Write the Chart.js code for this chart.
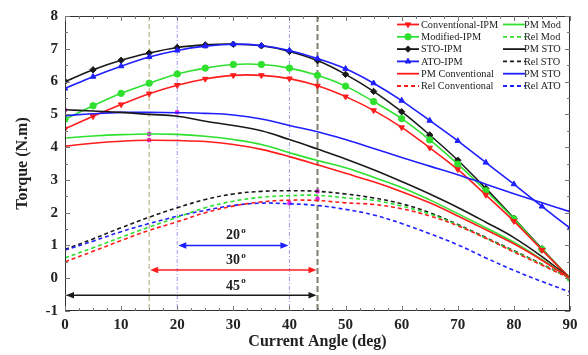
<!DOCTYPE html>
<html>
<head>
<meta charset="utf-8">
<script src="https://cdn.jsdelivr.net/npm/chart.js@4.4.1/dist/chart.umd.min.js"></script>
<style>
  html, body { margin: 0; padding: 0; background: #fff; }
  #wrap { width: 588px; height: 355px; }
</style>
</head>
<body>
<div id="wrap"><canvas id="torque-chart" width="588" height="355"></canvas></div>
<script>
// current angle (deg)
const angles = [0, 5, 10, 15, 20, 25, 30, 35, 40, 45, 50, 55, 60, 65, 70, 75, 80, 85, 90];

// total torque, IPM designs
const conventionalIpm = [4.56, 4.94, 5.3, 5.63, 5.89, 6.08, 6.19, 6.19, 6.09, 5.87, 5.54, 5.12, 4.6, 3.98, 3.32, 2.54, 1.74, 0.86, 0];
const modifiedIpm     = [4.85, 5.26, 5.64, 5.95, 6.23, 6.41, 6.52, 6.52, 6.41, 6.19, 5.86, 5.39, 4.87, 4.22, 3.48, 2.67, 1.81, 0.88, 0];
const stoIpm          = [6.0, 6.36, 6.65, 6.87, 7.04, 7.12, 7.14, 7.09, 6.92, 6.64, 6.22, 5.7, 5.08, 4.37, 3.6, 2.74, 1.83, 0.9, 0];
const atoIpm          = [5.79, 6.15, 6.47, 6.75, 6.95, 7.08, 7.14, 7.1, 6.95, 6.7, 6.39, 5.95, 5.42, 4.81, 4.19, 3.53, 2.87, 2.19, 1.53];

// PM torque components
const pmConventional = [4.03, 4.12, 4.18, 4.21, 4.2, 4.17, 4.08, 3.93, 3.71, 3.46, 3.2, 2.94, 2.64, 2.3, 1.9, 1.48, 1.05, 0.55, 0];
const pmMod          = [4.28, 4.34, 4.38, 4.4, 4.39, 4.33, 4.23, 4.08, 3.83, 3.59, 3.37, 3.08, 2.77, 2.39, 1.97, 1.54, 1.1, 0.57, 0];
const pmSto          = [5.14, 5.1, 5.06, 5.0, 4.94, 4.79, 4.66, 4.5, 4.23, 3.94, 3.64, 3.31, 2.95, 2.57, 2.16, 1.71, 1.24, 0.66, 0];
const pmAto          = [4.96, 5.02, 5.06, 5.06, 5.05, 5.03, 4.98, 4.86, 4.66, 4.47, 4.23, 3.96, 3.68, 3.42, 3.16, 2.87, 2.58, 2.3, 2.03];

// reluctance torque components
const relConventional = [0.5, 0.82, 1.15, 1.46, 1.72, 2.0, 2.2, 2.33, 2.38, 2.37, 2.3, 2.25, 2.12, 1.9, 1.6, 1.22, 0.8, 0.4, 0];
const relMod          = [0.62, 0.93, 1.25, 1.56, 1.86, 2.15, 2.35, 2.47, 2.52, 2.53, 2.45, 2.38, 2.2, 1.96, 1.62, 1.22, 0.82, 0.42, 0];
const relSto          = [0.88, 1.2, 1.54, 1.86, 2.15, 2.4, 2.57, 2.65, 2.67, 2.65, 2.57, 2.45, 2.27, 2.0, 1.64, 1.24, 0.84, 0.43, 0];
const relAto          = [0.86, 1.13, 1.42, 1.67, 1.89, 2.07, 2.22, 2.29, 2.27, 2.22, 2.1, 1.93, 1.67, 1.36, 1.02, 0.62, 0.24, -0.1, -0.42];

// peak markers (magenta)
const peakAngles = [0, 15, 15, 20, 40, 45, 45];
const peakValues = [5.13, 4.4, 4.21, 5.06, 2.29, 2.65, 2.42];

// reference angles and spans
const refAngles = [15, 20, 40, 45];
const spanStart = [20, 15, 0];
const spanEnd   = [40, 45, 45];
const spanLevel = [1.0, 0.25, -0.52];
const spanText  = ['20', '30', '45'];
const spanTextLevel = [1.3, 0.55, -0.24];

const xTicks = [0, 10, 20, 30, 40, 50, 60, 70, 80, 90];
const yTicks = [-1, 0, 1, 2, 3, 4, 5, 6, 7, 8];

const RED = '#ff1c1c', GREEN = '#2fe02f', BLACK = '#1a1a1a', BLUE = '#1f1fff';
const SERIF = '"Liberation Serif", "Times New Roman", serif';

const pts = vals => vals.map((v, i) => ({ x: angles[i], y: v }));

function curve(label, vals, color, dashed) {
  return {
    label, data: pts(vals), borderColor: color, backgroundColor: color,
    borderWidth: 1.6, borderDash: dashed ? [4, 3] : [], pointRadius: 0,
    tension: 0.4, fill: false
  };
}
function marked(label, vals, color, style, rot) {
  return {
    label, data: pts(vals), borderColor: color, backgroundColor: color,
    borderWidth: 1.6, pointStyle: style, pointRotation: rot || 0,
    pointRadius: 3.2, pointBorderWidth: 1, tension: 0.25, fill: false
  };
}

const datasets = [
  curve('PM Conventional', pmConventional, RED, false),
  curve('PM Mod', pmMod, GREEN, false),
  curve('PM STO', pmSto, BLACK, false),
  curve('PM ATO', pmAto, BLUE, false),
  curve('Rel Conventional', relConventional, RED, true),
  curve('Rel Mod', relMod, GREEN, true),
  curve('Rel ATO', relAto, BLUE, true),
  curve('Rel STO', relSto, BLACK, true),
  marked('Conventional-IPM', conventionalIpm, RED, 'triangle', 180),
  marked('Modified-IPM', modifiedIpm, GREEN, 'circle'),
  marked('ATO-IPM', atoIpm, BLUE, 'triangle'),
  marked('STO-IPM', stoIpm, BLACK, 'rectRot'),
  {
    label: 'peaks', type: 'scatter', showLine: false,
    data: peakAngles.map((a, i) => ({ x: a, y: peakValues[i] })),
    pointStyle: 'rect', pointRadius: 2.2, backgroundColor: '#e01fe0', borderColor: '#e01fe0'
  }
];

// legend entries: [label, color, dashed, marker, rotation]
const legendLeft = [
  ['Conventional-IPM', RED, false, 'triangle', 180],
  ['Modified-IPM', GREEN, false, 'circle', 0],
  ['STO-IPM', BLACK, false, 'rectRot', 0],
  ['ATO-IPM', BLUE, false, 'triangle', 0],
  ['PM Conventional', RED, false, null, 0],
  ['Rel Conventional', RED, true, null, 0]
];
const legendRight = [
  ['PM Mod', GREEN, false, null, 0],
  ['Rel Mod', GREEN, true, null, 0],
  ['PM STO', BLACK, false, null, 0],
  ['Rel STO', BLACK, true, null, 0],
  ['PM STO', BLUE, false, null, 0],
  ['Rel ATO', BLUE, true, null, 0]
];

function arrowHead(ctx, x, y, dir) {
  ctx.beginPath();
  ctx.moveTo(x, y);
  ctx.lineTo(x - dir * 8, y - 3.2);
  ctx.lineTo(x - dir * 8, y + 3.2);
  ctx.closePath();
  ctx.fill();
}

const overlay = {
  id: 'overlay',
  beforeDatasetsDraw(chart) {
    const { ctx, chartArea: a, scales: { x } } = chart;
    const styles = [
      { c: '#a9a872', w: 1, d: [5, 3] },
      { c: '#9c9cf2', w: 1, d: [4, 2, 1, 2] },
      { c: '#9c9cf2', w: 1, d: [4, 2, 1, 2] },
      { c: '#7f806c', w: 2, d: [6, 3] }
    ];
    ctx.save();
    refAngles.forEach((v, i) => {
      const px = x.getPixelForValue(v);
      ctx.strokeStyle = styles[i].c;
      ctx.lineWidth = styles[i].w;
      ctx.setLineDash(styles[i].d);
      ctx.beginPath();
      ctx.moveTo(px, a.top);
      ctx.lineTo(px, a.bottom);
      ctx.stroke();
    });
    ctx.restore();
  },
  afterDatasetsDraw(chart) {
    const { ctx, chartArea: a, scales: { x, y } } = chart;
    ctx.save();

    // frame + inward ticks
    ctx.strokeStyle = '#333';
    ctx.lineWidth = 1;
    ctx.setLineDash([]);
    ctx.strokeRect(a.left + 0.5, a.top + 0.5, a.right - a.left - 1, a.bottom - a.top - 1);
    ctx.strokeStyle = '#777';
    ctx.beginPath();
    for (let v = 0; v <= 90; v += 2.5) {
      const px = Math.round(x.getPixelForValue(v)) + 0.5;
      const len = v % 10 === 0 ? 5 : 3;
      ctx.moveTo(px, a.bottom); ctx.lineTo(px, a.bottom - len);
      ctx.moveTo(px, a.top); ctx.lineTo(px, a.top + len);
    }
    for (let v = -1; v <= 8; v += 0.5) {
      const py = Math.round(y.getPixelForValue(v)) + 0.5;
      const len = Number.isInteger(v) ? 5 : 3;
      ctx.moveTo(a.left, py); ctx.lineTo(a.left + len, py);
      ctx.moveTo(a.right, py); ctx.lineTo(a.right - len, py);
    }
    ctx.stroke();

    // angle spans
    const spanColors = [BLUE, RED, BLACK];
    spanStart.forEach((s, i) => {
      const x1 = x.getPixelForValue(s) + 1, x2 = x.getPixelForValue(spanEnd[i]) - 1;
      const py = y.getPixelForValue(spanLevel[i]);
      ctx.strokeStyle = spanColors[i];
      ctx.fillStyle = spanColors[i];
      ctx.lineWidth = 1.6;
      ctx.beginPath();
      ctx.moveTo(x1 + 4, py); ctx.lineTo(x2 - 4, py);
      ctx.stroke();
      arrowHead(ctx, x1, py, -1);
      arrowHead(ctx, x2, py, 1);

      const tx = x.getPixelForValue(30.3);
      const ty = y.getPixelForValue(spanTextLevel[i]);
      ctx.fillStyle = '#222';
      ctx.font = 'bold 14px ' + SERIF;
      ctx.textAlign = 'center';
      ctx.textBaseline = 'middle';
      ctx.fillText(spanText[i], tx - 2, ty);
      ctx.font = 'bold 9px ' + SERIF;
      ctx.fillText('o', tx + 8.5, ty - 5);
    });

    // legend
    const { drawPoint } = Chart.helpers;
    ctx.font = '10.3px ' + SERIF;
    ctx.textAlign = 'left';
    ctx.textBaseline = 'middle';
    const cols = [[legendLeft, 397, 421], [legendRight, 503, 524]];
    cols.forEach(([items, lx, tx]) => {
      items.forEach((it, r) => {
        const ly = 24.5 + r * 12.3;
        ctx.strokeStyle = it[1];
        ctx.fillStyle = it[1];
        ctx.lineWidth = 1.8;
        ctx.setLineDash(it[2] ? [4, 3] : []);
        ctx.beginPath();
        ctx.moveTo(lx, ly); ctx.lineTo(lx + 22, ly);
        ctx.stroke();
        ctx.setLineDash([]);
        if (it[3]) {
          ctx.lineWidth = 1;
          drawPoint(ctx, { pointStyle: it[3], radius: 3.2, rotation: it[4], borderWidth: 1 }, lx + 11, ly);
        }
        ctx.fillStyle = '#222';
        ctx.fillText(it[0], tx, ly + 0.5);
      });
    });
    ctx.restore();
  }
};

const ctx = document.getElementById('torque-chart');
new Chart(ctx, {
  type: 'line',
  data: { datasets },
  plugins: [overlay],
  options: {
    responsive: false,
    animation: false,
    devicePixelRatio: 1,
    layout: { padding: { top: 13, right: 18, left: 0, bottom: 0 } },
    plugins: { legend: { display: false }, tooltip: { enabled: false } },
    scales: {
      x: {
        type: 'linear', min: 0, max: 90,
        afterBuildTicks: s => { s.ticks = xTicks.map(v => ({ value: v })); },
        afterFit: s => { s.height = 44; },
        grid: { display: false, drawTicks: false },
        border: { display: false },
        ticks: { color: '#222', padding: 5, font: { family: SERIF, size: 15, weight: 'bold' } },
        title: {
          display: true, text: 'Current Angle (deg)', color: '#222',
          padding: { top: 0, bottom: 4 },
          font: { family: SERIF, size: 16, weight: 'bold' }
        }
      },
      y: {
        type: 'linear', min: -1, max: 8,
        afterBuildTicks: s => { s.ticks = yTicks.map(v => ({ value: v })); },
        afterFit: s => { s.width = 65; },
        grid: { display: false, drawTicks: false },
        border: { display: false },
        ticks: { color: '#222', padding: 7, font: { family: SERIF, size: 15, weight: 'bold' } },
        title: {
          display: true, text: 'Torque (N.m)', color: '#222',
          padding: { top: 13, bottom: 0 },
          font: { family: SERIF, size: 16, weight: 'bold' }
        }
      }
    }
  }
});
</script>
</body>
</html>
